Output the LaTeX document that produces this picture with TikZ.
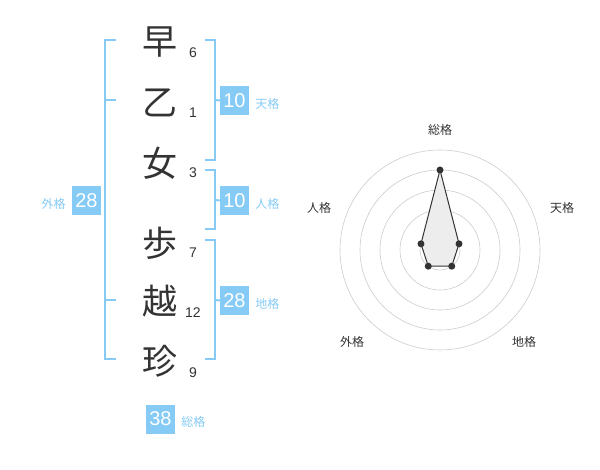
\documentclass[tikz,border=0pt]{standalone}
\usepackage{fontspec}
\setmainfont{Liberation Sans}
\newfontfamily\jp{Noto Sans CJK JP}
\usetikzlibrary{positioning}
\definecolor{skyline}{HTML}{85CBF6}
\definecolor{inkgray}{HTML}{333333}
\definecolor{ringgray}{HTML}{CCCCCC}

\begin{document}
\begin{tikzpicture}[
    x=1pt, y=-1pt,
    % Node styles
    kanji/.style={font=\jp\fontsize{35}{35}\selectfont, text=inkgray, inner sep=0pt},
    strokes/.style={font=\fontsize{14}{14}\selectfont, text=inkgray, inner sep=0pt},
    score/.style={fill=skyline, text=white, font=\fontsize{20}{20}\selectfont, minimum size=29pt, inner sep=0pt},
    kaku/.style={font=\jp\fontsize{12}{12}\selectfont, text=skyline, inner sep=0pt, yshift=-3pt},
    bracket/.style={draw=skyline, line width=2pt},
    axislabel/.style={font=\jp\fontsize{12}{12}\selectfont, text=inkgray, inner sep=0pt},
    ring/.style={draw=ringgray, line width=0.6pt},
    vertex/.style={circle, fill=inkgray, inner sep=0pt, minimum size=7pt},
]
\useasboundingbox (0,0) rectangle (600,470);

    % Name characters and stroke counts
    \node[kanji] (c1) at (160,42) {早};
    \node[kanji] (c2) at (160,103) {乙};
    \node[kanji] (c3) at (160,163) {女};
    \node[kanji] (c4) at (160,243) {歩};
    \node[kanji] (c5) at (160,301) {越};
    \node[kanji] (c6) at (160,361) {珍};
    \node[strokes] (n1) at (193,53) {6};
    \node[strokes] (n2) at (193,113) {1};
    \node[strokes] (n3) at (193,173) {3};
    \node[strokes] (n4) at (193,253) {7};
    \node[strokes] (n5) at (193,313) {12};
    \node[strokes] (n6) at (193,373) {9};

    % Scores
    \node[score] (gai) at (86.5,200.5) {28};
    \node[kaku, left=6pt of gai] (gaiL) {外格};
    \node[score] (ten) at (234.5,100.5) {10};
    \node[kaku, right=6pt of ten] (tenL) {天格};
    \node[score] (jin) at (234.5,200.5) {10};
    \node[kaku, right=6pt of jin] (jinL) {人格};
    \node[score] (chi) at (234.5,300.5) {28};
    \node[kaku, right=6pt of chi] (chiL) {地格};
    \node[score] (sou) at (160.5,419) {38};
    \node[kaku, right=6pt of sou] (souL) {総格};

    % Brackets
    \draw[bracket] (116,40) -| (105,359.5) -- (116,359.5);
    \draw[bracket] (105,100) -- (116,100);
    \draw[bracket] (105,300) -- (116,300);
    \draw[bracket] (205,40) -| (214.5,160) -- (205,160);
    \draw[bracket] (214.5,100) -- (ten.west);
    \draw[bracket] (205,170) -| (214.5,229.5) -- (205,229.5);
    \draw[bracket] (214.5,200) -- (jin.west);
    \draw[bracket] (205,240) -| (214.5,359.5) -- (205,359.5);
    \draw[bracket] (214.5,300) -- (chi.west);

    % Radar chart
    \coordinate (hub) at (440,250);
    \foreach \r in {20,40,...,100}
        \draw[ring] (hub) circle (\r);
    \fill[ringgray] (hub) circle (3);
    \path (hub) ++(-90:80) coordinate (pSou)
          (hub) ++(-18:20) coordinate (pTen)
          (hub) ++(54:20) coordinate (pChi)
          (hub) ++(126:20) coordinate (pGai)
          (hub) ++(198:20) coordinate (pJin);
    \draw[inkgray, fill=black!7, line width=1pt] (pSou) -- (pTen) -- (pChi) -- (pGai) -- (pJin) -- cycle;
    \foreach \p in {pSou,pTen,pChi,pGai,pJin}
        \node[vertex] at (\p) {};
    \node[axislabel] (aSou) at (440,130) {総格};
    \node[axislabel] (aTen) at (562,208) {天格};
    \node[axislabel] (aChi) at (524,342) {地格};
    \node[axislabel] (aGai) at (352,342) {外格};
    \node[axislabel] (aJin) at (319,208) {人格};

\end{tikzpicture}
\end{document}
